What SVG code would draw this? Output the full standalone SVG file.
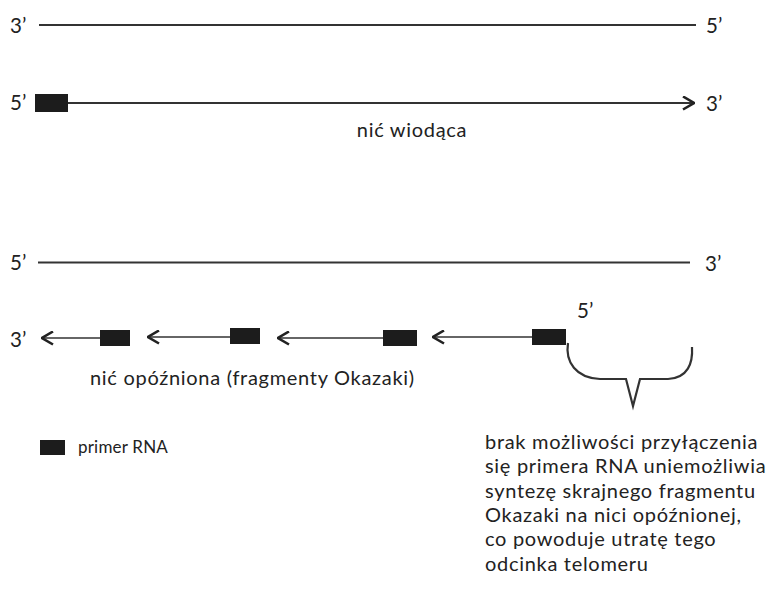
<svg xmlns="http://www.w3.org/2000/svg" width="767" height="590" viewBox="0 0 767 590">
<style>
  .t { font-family: Lato, "Open Sans", "Liberation Sans", sans-serif; fill: #222; }
  .lbl { font-size: 20.5px; }
  .cap { font-size: 20px; letter-spacing: 0.7px; }
  .leg { font-size: 17px; letter-spacing: 0.2px; }
  .strand { stroke: #333; stroke-width: 2.2; fill: none; }
  .thin { stroke: #333; stroke-width: 1.6; fill: none; }
  .primer { fill: #1c1c1c; }
</style>
<defs>
  <marker id="chev" viewBox="0 0 13 15" refX="12" refY="7.5" markerWidth="13" markerHeight="15" markerUnits="userSpaceOnUse" orient="auto">
    <path d="M1,1 L12,7.5 L1,14" fill="none" stroke="#222" stroke-width="2.6" stroke-linejoin="miter"/>
  </marker>
</defs>
<rect width="767" height="590" fill="#fff"/>

<g id="template-leading">
  <text class="t lbl" x="10" y="33">3’</text>
  <text class="t lbl" x="706" y="33">5’</text>
</g>
<g id="leading-strand">
  <rect class="primer" x="35" y="94" width="33" height="18"/>
  <text class="t lbl" x="10" y="110">5’</text>
  <text class="t lbl" x="706" y="111">3’</text>
  <text class="t cap" x="412" y="137" text-anchor="middle">nić wiodąca</text>
</g>
<g id="template-lagging">
  <text class="t lbl" x="10" y="270">5’</text>
  <text class="t lbl" x="705" y="271">3’</text>
</g>
<g id="lagging-strand">
  <text class="t lbl" x="10" y="347">3’</text>
  <rect class="primer" x="100" y="330" width="30" height="16"/>
  <rect class="primer" x="230" y="328" width="30" height="16"/>
  <rect class="primer" x="383" y="330" width="34" height="16"/>
  <rect class="primer" x="532" y="329" width="34" height="16"/>
  <text class="t lbl" x="577" y="318">5’</text>
  <text class="t cap" x="90" y="385">nić opóźniona (fragmenty Okazaki)</text>
</g>
<g id="legend">
  <rect class="primer" x="40" y="440" width="25" height="15"/>
  <text class="t leg" x="78" y="453">primer RNA</text>
</g>
<g id="note">
  <text class="t cap" x="485" y="449">brak możliwości przyłączenia</text>
  <text class="t cap" x="485" y="473.3">się primera RNA uniemożliwia</text>
  <text class="t cap" x="485" y="497.6">syntezę skrajnego fragmentu</text>
  <text class="t cap" x="485" y="521.9">Okazaki na nici opóźnionej,</text>
  <text class="t cap" x="485" y="546.2">co powoduje utratę tego</text>
  <text class="t cap" x="485" y="570.5">odcinka telomeru</text>
</g>

<g id="connectors">
  <line class="strand" x1="39" y1="25" x2="696" y2="25"/>
  <line class="strand" x1="68" y1="103" x2="694" y2="103" marker-end="url(#chev)"/>
  <line class="strand" x1="38" y1="262.5" x2="690" y2="262.5"/>
  <line class="thin" x1="100" y1="338" x2="42" y2="338" marker-end="url(#chev)"/>
  <line class="thin" x1="230" y1="337" x2="148" y2="337" marker-end="url(#chev)"/>
  <line class="thin" x1="383" y1="338" x2="278" y2="338" marker-end="url(#chev)"/>
  <line class="thin" x1="532" y1="337" x2="433" y2="337" marker-end="url(#chev)"/>
  <path class="strand" stroke-width="2" d="M568,343 C565,362 576,378 600,379 L626,379 L633,406 L640,379 L668,379 C688,378 693,363 692,347"/>
</g>
</svg>
